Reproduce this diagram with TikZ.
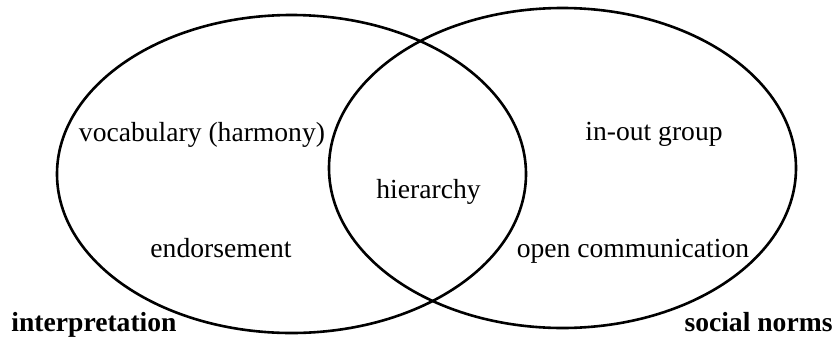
\documentclass[tikz,border=0pt]{standalone}
\usepackage{fontspec}
\setmainfont{Liberation Serif}
\usetikzlibrary{shapes.geometric}

\begin{document}
\begin{tikzpicture}[x=1pt,y=-1pt,
  circ/.style={ellipse,draw,line width=2.6pt,inner sep=0pt},
  lbl/.style={anchor=base,font=\fontsize{27.6}{30}\selectfont},
  setname/.style={anchor=base,font=\fontsize{27.6}{30}\selectfont\bfseries}]
\useasboundingbox (0,0) rectangle (836,338);
% the two sets
\node[circ,minimum width=469pt,minimum height=318pt] (interp) at (291.5,174) {};
\node[circ,minimum width=467pt,minimum height=320pt] (norms) at (562.5,168) {};
% items
\node[lbl] (vocab) at (202,141) {vocabulary (harmony)};
\node[lbl] (endorse) at (221,257) {endorsement};
\node[lbl] (hier) at (428.5,198) {hierarchy};
\node[lbl] (inout) at (654,140) {in-out group};
\node[lbl] (opencom) at (633,257) {open communication};
% set names
\node[setname] (interpname) at (94,331) {interpretation};
\node[setname] (normsname) at (758.5,331) {social norms};
\end{tikzpicture}
\end{document}
